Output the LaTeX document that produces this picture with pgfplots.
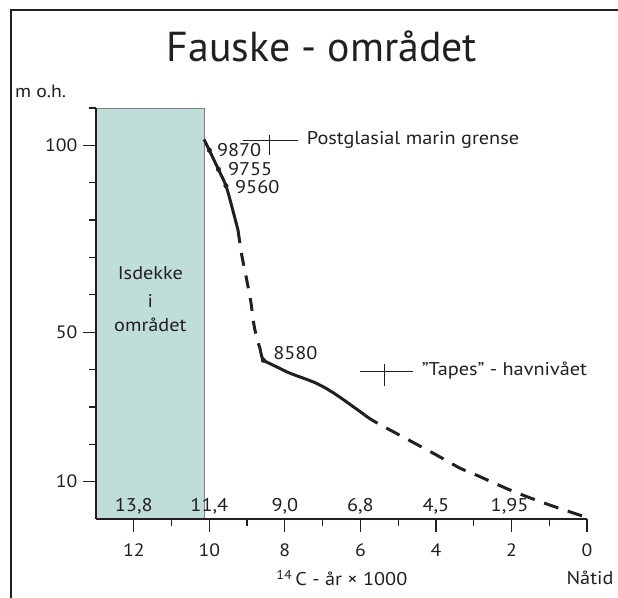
\documentclass[border=0pt]{standalone}
\usepackage{fontspec}
\setmainfont{PT Sans}[FakeStretch=1.1]
\newfontfamily\titlefont{PT Sans}
\usepackage{pgfplots}
\pgfplotsset{compat=1.18}
\definecolor{ice}{RGB}{192,222,217}
\definecolor{ink}{RGB}{35,31,32}
\begin{document}
\begin{tikzpicture}[x=1bp,y=1bp]
\path[use as bounding box] (0,0) rectangle (618,598);
\draw[line width=2.5bp, ink] (11,0) -- (11,588) -- (618,588);
\node[font=\titlefont\fontsize{42}{46}\selectfont, text=ink, inner sep=0pt] at (322,552) {Fauske - området};
\node[anchor=west, font=\fontsize{18}{20}\selectfont, text=ink, inner sep=0pt] at (15,507) {m o.h.};
\begin{axis}[
  at={(96bp,79bp)}, anchor=south west, scale only axis,
  width=491bp, height=411bp,
  xmin=0, xmax=13, x dir=reverse, ymin=0, ymax=110,
  axis x line*=bottom, axis y line*=left,
  axis line style={ink, line width=1.3bp},
  axis on top, clip=false,
  xtick={0,2,...,12}, minor xtick={1,3,...,11},
  ytick={10,50,100}, minor ytick={20,30,40,60,70,80,90,110},
  tick align=outside,
  major tick length=13bp, minor tick length=7bp,
  tick style={ink, line width=1.2bp},
  /pgf/number format/assume math mode=true,
  ticklabel style={font=\fontsize{18}{20}\selectfont, text=ink},
  xticklabel style={yshift=-8bp},
  yticklabel style={xshift=-2bp},
]
\addplot[fill=ice, draw=gray, line width=0.8bp] coordinates {(13,0) (10.12,0) (10.12,110) (13,110)} -- cycle;
\addplot[ink, line width=3bp, smooth] coordinates {(10.14,101.6) (10.0,98.7) (9.76,93.6) (9.56,89.2) (9.40,83.5) (9.24,77.3)};
\addplot[ink, line width=3bp, dash pattern=on 13bp off 10bp, smooth] coordinates {(9.24,77.3) (9.14,70.6) (9.01,64.0) (8.90,58.1) (8.81,51.5) (8.70,47.0) (8.66,45.7)};
\addplot[ink, line width=3bp, smooth] coordinates {(8.66,45.7) (8.61,43.4) (8.57,42.5) (8.44,41.8) (8.13,40.3) (7.86,39.0) (7.16,36.3) (6.63,33.2) (5.88,27.8)};
\addplot[ink, line width=3bp, dash pattern=on 15bp off 10bp, smooth] coordinates {(5.88,27.8) (5.61,26.0) (4.64,20.7) (3.98,17.1) (3.36,13.6) (2.94,11.8) (2.0,7.6) (1.06,4.0) (0,0.4)};
\addplot[only marks, mark=*, mark size=2.3bp, ink] coordinates {(10.0,98.7) (9.76,93.6) (9.56,89.2) (8.57,42.5)};
% Postglasial marin grense marker
\addplot[ink, line width=0.9bp] coordinates {(9.10,101.2) (7.64,101.2)};
\addplot[ink, line width=0.9bp] coordinates {(8.41,97.4) (8.41,102.8)};
% Tapes marker
\addplot[ink, line width=0.9bp] coordinates {(6.01,39.4) (4.60,39.4)};
\addplot[ink, line width=0.9bp] coordinates {(5.35,35.6) (5.35,41.6)};
\begin{scope}[every node/.style={font=\fontsize{18.5}{20}\selectfont, text=ink, inner sep=0pt}]
\node[anchor=west] at (axis cs:9.80,98.7) {9870};
\node[anchor=west] at (axis cs:9.51,93.6) {9755};
\node[anchor=west] at (axis cs:9.32,88.8) {9560};
\node[anchor=west] at (axis cs:8.31,44.3) {8580};
\node[anchor=mid west] at (axis cs:7.42,101.0) {Postglasial marin grense};
\node[anchor=mid west] at (axis cs:4.38,39.2) {\symbol{34}Tapes\symbol{34} - havnivået};
\node at (axis cs:11.56,65.7) {Isdekke};
\node at (axis cs:11.56,58.4) {i};
\node at (axis cs:11.56,52.0) {området};
\node at (axis cs:12,3.3) {13,8};
\node at (axis cs:10,3.3) {11,4};
\node at (axis cs:8,3.3) {9,0};
\node at (axis cs:6,3.3) {6,8};
\node at (axis cs:4,3.3) {4,5};
\node at (axis cs:2.05,3.3) {1,95};
\node at (axis cs:6.49,-15.8) {\textsuperscript{14}\,C - år × 1000};
\node at (axis cs:-0.08,-15.8) {Nåtid};
\end{scope}
\end{axis}
\end{tikzpicture}
\end{document}
